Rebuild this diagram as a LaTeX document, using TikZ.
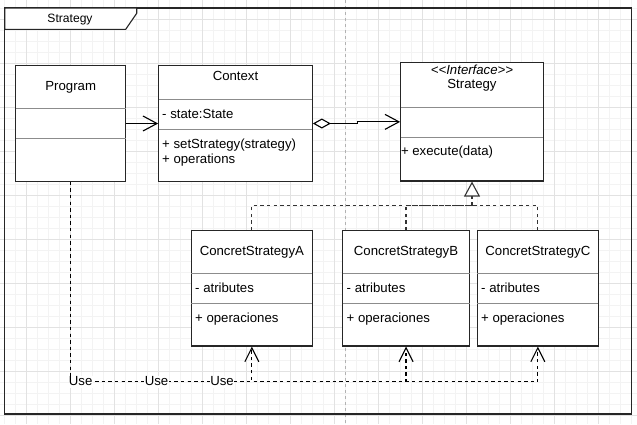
\documentclass[tikz,border=0pt]{standalone}
\usepackage{fontspec}
\setmainfont{Liberation Sans}
\usetikzlibrary{arrows.meta}
\definecolor{minorgrid}{HTML}{F3F3F3}
\definecolor{majorgrid}{HTML}{E2E2E2}
\definecolor{sepgray}{HTML}{8C8C8C}
\definecolor{dashgray}{HTML}{333333}
\begin{document}
\begin{tikzpicture}[x=1pt,y=-1pt,
  every node/.style={font=\fontsize{13.2}{15}\selectfont, inner sep=0pt, text height=9.5pt, text depth=2.8pt},
  umlbox/.style={draw=black!85, line width=1.1pt, fill=white},
  sepline/.style={draw=sepgray, line width=1pt},
  lefttext/.style={anchor=west},
  openhead/.style={-{Straight Barb[length=14pt,width=15pt,line width=1.1pt]}},
  assoc/.style={draw=black, line width=1.1pt, openhead},
  aggr/.style={draw=black, line width=1.1pt, {Diamond[fill=white,length=18pt,width=10pt,line width=1.1pt]}-{Straight Barb[length=14pt,width=15pt,line width=1.1pt]}},
  genline/.style={draw=dashgray, line width=1.25pt, dash pattern=on 3.3pt off 3.3pt},
  depline/.style={draw=black, line width=1.25pt, dash pattern=on 3.3pt off 3.3pt, -{Straight Barb[length=14pt,width=14pt,line width=1.1pt]}},
  uselbl/.style={fill=white, inner xsep=0.3pt, inner ysep=0pt},
  minorline/.style={draw=minorgrid, line width=1pt},
  majorline/.style={draw=majorgrid, line width=1pt}]
\useasboundingbox (0,0) rectangle (637,424);
\fill[white] (0,0) rectangle (637,424);
% grid
\foreach \i in {0,...,57} \draw[minorline] ({4.7+11*\i},0) -- ({4.7+11*\i},424);
\foreach \j in {0,...,38} \draw[minorline] (0,{8+11*\j}) -- (637,{8+11*\j});
\foreach \i in {0,...,13} \draw[majorline] ({26.7+44*\i},0) -- ({26.7+44*\i},424);
\foreach \j in {0,...,9} \draw[majorline] (0,{19+44*\j}) -- (637,{19+44*\j});
% page break line
\draw[draw=black!30, line width=0.9pt, dash pattern=on 3pt off 3pt] (345.5,0) -- (345.5,424);
% frame
\draw[draw=black!85, line width=1.3pt] (4.7,8) rectangle (631.3,414);
\draw[draw=black!85, line width=1.1pt, fill=white] (4.7,8) -- (136.7,8) -- (136.7,13.3) -- (125.7,29.3) -- (4.7,29.3) -- cycle;
\node[font=\fontsize{12.1}{14}\selectfont] (frametitle) at (70,19) {Strategy};

% Program
\node[umlbox, minimum width=110pt, minimum height=115.6pt] (program) at (70.7,123.5) {};
\draw[sepline] (15.7,108.3) -- (125.7,108.3);
\draw[sepline] (15.7,138.3) -- (125.7,138.3);
\node (programtitle) at (70.7,87) {Program};

% Context
\node[umlbox, minimum width=153.6pt, minimum height=115.6pt] (context) at (235.5,123.5) {};
\draw[sepline] (158.7,99.3) -- (312.3,99.3);
\draw[sepline] (158.7,129.3) -- (312.3,129.3);
\node (contexttitle) at (235.5,77.6) {Context};
\node[lefttext] (contextattr) at (162,115) {- state:State};
\node[lefttext] (contextop1) at (162,145.3) {+ setStrategy(strategy)};
\node[lefttext] (contextop2) at (162,160.6) {+ operations};

% Strategy interface
\node[umlbox, minimum width=142.6pt, minimum height=118.3pt] (strategy) at (472,121.85) {};
\draw[sepline] (400.7,107.3) -- (543.3,107.3);
\draw[sepline] (400.7,137.3) -- (543.3,137.3);
\node (stereo) at (472,71) {\textit{<{}<Interface>{}>}};
\node (strategytitle) at (472,85.3) {Strategy};
\node[lefttext] (strategyop) at (400.8,152.6) {+ execute(data)};

% Concrete strategies
\node[umlbox, minimum width=121.1pt, minimum height=115.3pt] (csa) at (251.85,288.35) {};
\draw[sepline] (191.3,273.3) -- (312.4,273.3);
\draw[sepline] (191.3,303.3) -- (312.4,303.3);
\node (csatitle) at (251.85,252) {ConcretStrategyA};
\node[lefttext] (csaattr) at (195,289) {- atributes};
\node[lefttext] (csaop) at (195,319) {+ operaciones};

\node[umlbox, minimum width=127.1pt, minimum height=115.3pt] (csb) at (406.05,288.35) {};
\draw[sepline] (342.5,273.3) -- (469.6,273.3);
\draw[sepline] (342.5,303.3) -- (469.6,303.3);
\node (csbtitle) at (406.05,252) {ConcretStrategyB};
\node[lefttext] (csbattr) at (346.5,289) {- atributes};
\node[lefttext] (csbop) at (346.5,319) {+ operaciones};

\node[umlbox, minimum width=121.1pt, minimum height=115.3pt] (csc) at (537.85,288.35) {};
\draw[sepline] (477.3,273.3) -- (598.4,273.3);
\draw[sepline] (477.3,303.3) -- (598.4,303.3);
\node (csctitle) at (537.85,252) {ConcretStrategyC};
\node[lefttext] (cscattr) at (481,289) {- atributes};
\node[lefttext] (cscop) at (481,319) {+ operaciones};

% Associations
\draw[assoc] (program) -- (context);
\draw[aggr] (context.east) -- ++(44.4,0) |- (strategy.west);

% Generalization
\coordinate (junction) at (472,205.7);
\draw[genline] (csa.north) |- (junction);
\draw[genline] (csb.north) |- (junction);
\draw[genline] (csc.north) |- (junction);
\draw[genline, -{Triangle[fill=white,length=15pt,width=16pt,line width=1.1pt]}] (junction) -- (strategy.south);

% Dependencies
\coordinate (bus) at (70.7,381.7);
\draw[depline] (program.south) -- (bus) -| (csa.south);
\draw[depline] (program.south) -- (bus) -| (csb.south);
\draw[depline] (program.south) -- (bus) -| (csc.south);
\node[uselbl] (use1) at (80.7,381.7) {Use};
\node[uselbl] (use2) at (156.5,381.7) {Use};
\node[uselbl] (use3) at (222,381.7) {Use};
\end{tikzpicture}
\end{document}
